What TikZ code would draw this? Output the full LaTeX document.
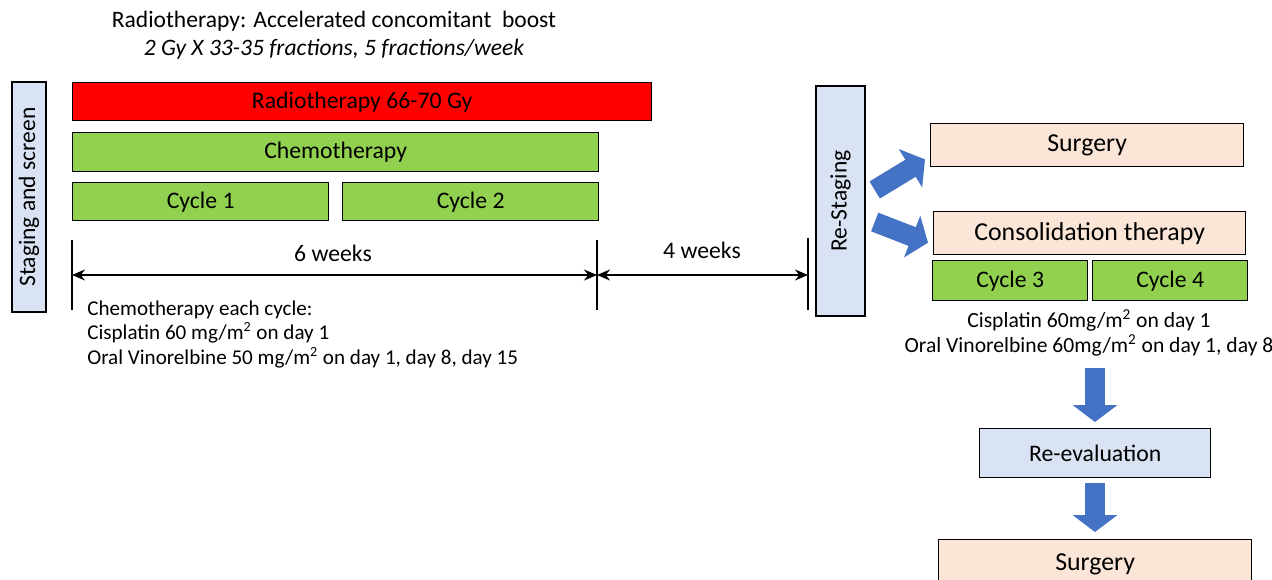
\documentclass[tikz,border=0pt]{standalone}
\usepackage{fontspec}
\setmainfont{Carlito}
\usetikzlibrary{arrows.meta, positioning}

\definecolor{rtred}{HTML}{FF0000}
\definecolor{chemgreen}{HTML}{92D050}
\definecolor{peach}{HTML}{FBE5D6}
\definecolor{paleblue}{HTML}{DAE3F3}
\definecolor{arrowblue}{HTML}{4472C4}

\tikzset{
  bar/.style={draw, thick, anchor=north west, inner sep=0pt, font=\fontsize{13.5}{16}\selectfont},
  sidebox/.style={draw, thick, fill=paleblue, rotate=90, inner sep=0pt, font=\fontsize{13.4}{15}\selectfont},
  rightbox/.style={draw, thick, anchor=north west, inner sep=0pt, font=\fontsize{14.7}{17}\selectfont},
  blockarrow/.style={arrowblue, line width=0.4cm, -{Triangle[length=0.34cm, width=0.88cm]}},
  span/.style={line width=1.1pt, {Stealth[length=0.26cm, width=0.22cm]}-{Stealth[length=0.26cm, width=0.22cm]}},
  tick/.style={line width=1.2pt}
}

\begin{document}
\begin{tikzpicture}[x=0.02cm, y=-0.02cm]
\useasboundingbox (0,0) rectangle (1272,579);
\clip (0,0) rectangle (1272,579);

\node[anchor=base, align=center, inner sep=0pt, font=\fontsize{13.4}{15.9}\selectfont] (title) at (334,55)
  {Radiotherapy: Accelerated concomitant\ \ boost\\ \itshape 2 Gy X 33-35 fractions, 5 fractions/week};

\node[sidebox, minimum width=4.6cm, minimum height=0.68cm] (stage) at (29,197) {Staging and screen};
\node[bar, fill=rtred, minimum width=11.58cm, minimum height=0.76cm] (radio) at (72,82) {Radiotherapy 66-70 Gy};
\node[bar, fill=chemgreen, minimum width=10.52cm, minimum height=0.78cm] (chemo) at (72,132) {Chemotherapy};
\node[bar, fill=chemgreen, minimum width=5.12cm, minimum height=0.76cm] (cyc1) at (72,182) {Cycle 1};
\node[bar, fill=chemgreen, minimum width=5.12cm, minimum height=0.76cm] (cyc2) at (342,182) {Cycle 2};

\draw[tick] (72,240) -- (72,310);
\draw[tick] (597,240) -- (597,310);
\draw[tick] (808,238) -- (808,310);
\coordinate (w0) at (72,275);
\coordinate (w6) at (597,275);
\coordinate (w10) at (808,275);
\draw[span] (w0) -- (w6);
\draw[span] (w6) -- (w10);
\node[font=\fontsize{13.5}{15}\selectfont] (six) at (333,253) {6 weeks};
\node[font=\fontsize{13.5}{15}\selectfont] (four) at (702,250) {4 weeks};

\node[anchor=base west, align=left, inner sep=0pt, font=\fontsize{12}{13.9}\selectfont] (chemonote) at (87,364)
  {Chemotherapy each cycle:\\
   Cisplatin 60 mg/m\textsuperscript{2} on day 1\\
   Oral Vinorelbine 50 mg/m\textsuperscript{2} on day 1, day 8, day 15};

\node[sidebox, minimum width=4.6cm, minimum height=0.98cm] (restage) at (840.5,201) {Re-Staging};
\node[rightbox, fill=peach, minimum width=6.26cm, minimum height=0.86cm] (surg1) at (930,123) {Surgery};
\node[rightbox, fill=peach, minimum width=6.24cm, minimum height=0.86cm] (consol) at (933,211) {Consolidation therapy};
\node[bar, fill=chemgreen, minimum width=3.1cm, minimum height=0.8cm] (cyc3) at (932,260) {Cycle 3};
\node[bar, fill=chemgreen, minimum width=3.1cm, minimum height=0.8cm] (cyc4) at (1092,260) {Cycle 4};

\node[anchor=base, align=center, inner sep=0pt, font=\fontsize{12.3}{14.2}\selectfont] (consolnote) at (1089,352)
  {Cisplatin 60mg/m\textsuperscript{2} on day 1\\
   Oral Vinorelbine 60mg/m\textsuperscript{2} on day 1, day 8};

\node[bar, fill=paleblue, minimum width=4.62cm, minimum height=0.98cm] (reeval) at (979,428) {Re-evaluation};
\node[rightbox, fill=peach, minimum width=6.26cm, minimum height=1.0cm] (surg2) at (938,539) {Surgery};

\draw[blockarrow] ([shift={(9,-11)}]restage.south) -- ([shift={(-5,-8)}]surg1.south west);
\draw[blockarrow] ([shift={(9,21)}]restage.south) -- ([shift={(-5,9.5)}]consol.west);
\coordinate (down) at (1095,368);
\draw[blockarrow, shorten >=0.12cm] (down) -- (reeval.north -| down);
\draw[blockarrow, shorten <=0.1cm, shorten >=0.14cm] (reeval.south -| down) -- (surg2.north -| down);
\end{tikzpicture}
\end{document}
